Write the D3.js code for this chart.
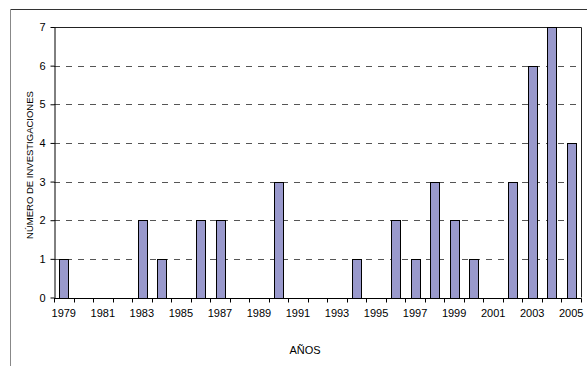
<!DOCTYPE html>
<html><head><meta charset="utf-8">
<script src="https://cdn.jsdelivr.net/npm/d3@7"></script>
<style>body{margin:0;background:#fff}svg{display:block}text{font-family:"Liberation Sans",Arial,sans-serif}</style>
</head><body>
<svg id="c" width="587" height="366"></svg>
<script>
const years = d3.range(1979, 2006).map(String);
const barYears = ["1979","1983","1984","1986","1987","1990","1994","1996","1997","1998","1999","2000","2002","2003","2004","2005"];
const barValues = [1,2,1,2,2,3,1,2,1,3,2,1,3,6,7,4];
const yTicks = [0,1,2,3,4,5,6,7];
const xTickLabels = years.filter((d,i)=>i%2===0);
const yTitle = "NÚMERO DE INVESTIGACIONES";
const xTitle = "AÑOS";

const svg = d3.select("#c");
const L = 54, R = 581, T = 27, B = 297.5;
const x = d3.scaleBand().domain(years).range([L, R]).padding(0);
const y = d3.scaleLinear().domain([0, 7]).range([B, T]);

// outer frame
svg.append("line").attr("x1",10.5).attr("x2",587).attr("y1",9.5).attr("y2",9.5).attr("stroke","#333");
svg.append("line").attr("x1",10.5).attr("x2",10.5).attr("y1",9.5).attr("y2",366).attr("stroke","#888");

// gridlines
svg.append("g").selectAll("line").data(yTicks.filter(d=>d>0&&d<7)).join("line")
  .attr("x1",L).attr("x2",R).attr("y1",d=>Math.round(y(d))+0.5).attr("y2",d=>Math.round(y(d))+0.5)
  .attr("stroke","#555").attr("stroke-dasharray","6,6");

// plot border top & right
svg.append("path").attr("d",`M${L},${T+0.5}H${R+0.5}V${B}`).attr("fill","none").attr("stroke","#222");

// bars
const bw = x.bandwidth()*0.44;
svg.append("g").selectAll("rect").data(barYears.map((d,i)=>({year:d,v:barValues[i]}))).join("rect")
  .attr("x",d=>Math.round(x(d.year)+x.bandwidth()/2-bw/2)+0.5)
  .attr("width",Math.round(bw))
  .attr("y",d=>Math.round(y(d.v))+0.5)
  .attr("height",d=>Math.round(B)-Math.round(y(d.v)))
  .attr("fill","#9999cc").attr("stroke","#000").attr("stroke-width",1);

// y axis
const ya = svg.append("g").attr("transform",`translate(${L+0.5},0)`)
  .call(d3.axisLeft(y).tickValues(yTicks).tickSize(4).tickSizeOuter(0).tickFormat(d3.format("d")));
ya.select(".domain").attr("stroke","#000");
ya.selectAll(".tick line").attr("stroke","#000");
ya.selectAll("text").attr("font-size",11).attr("fill","#000").attr("x",-9).style("font-family","Liberation Sans, Arial");

// x axis
const xa = svg.append("g").attr("transform",`translate(0,${Math.round(B)+0.5})`);
xa.append("line").attr("x1",L).attr("x2",R+0.5).attr("stroke","#000");
const bounds = years.map(d=>x(d)).concat([R]);
xa.selectAll(".tk").data(bounds).join("line").attr("class","tk")
  .attr("x1",d=>Math.round(d)+0.5).attr("x2",d=>Math.round(d)+0.5).attr("y1",0).attr("y2",4).attr("stroke","#000");
xa.selectAll("text").data(xTickLabels).join("text")
  .attr("x",d=>x(d)+x.bandwidth()/2).attr("y",18).attr("text-anchor","middle")
  .attr("font-size",11).attr("fill","#000").text(d=>d);

// titles
svg.append("text").attr("transform","translate(32.5,165) rotate(-90)").attr("text-anchor","middle")
  .attr("font-size",9.5).attr("fill","#000").text(yTitle);
svg.append("text").attr("x",305).attr("y",354).attr("text-anchor","middle")
  .attr("font-size",11).attr("fill","#000").text(xTitle);
</script>
</body></html>
